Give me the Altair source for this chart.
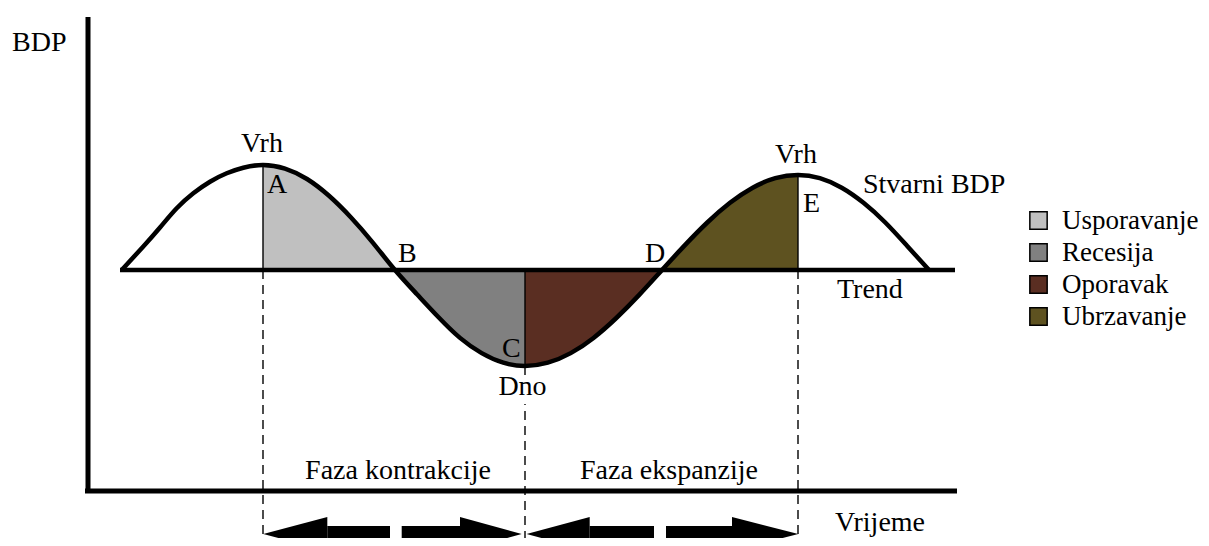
import altair as alt
import pandas as pd

# ---- data (time units ~ horizontal distance from the GDP axis, GDP level above the time axis)
curve_t = [33.7, 55.3, 72, 88.7, 105.3, 122, 138.7, 155.3, 175,
           197, 219, 241, 263, 285, 307,
           328.7, 350.3, 372, 393.7, 415.3, 437,
           459.8, 482.7, 505.5, 528.3, 551.2, 574,
           596.7, 619.3, 642, 664.7, 687.3, 710,
           731.8, 753.7, 775.5, 797.3, 819.2, 841]
curve_g = [221, 244.5, 263.5, 282.7, 297.7, 309.3, 317.7, 323.3, 326,
           322.4, 312, 295.2, 273.5, 248.2, 221,
           197, 174, 153.1, 137.9, 128.3, 125,
           128.3, 137.9, 153.1, 173, 196.1, 221,
           245.6, 268.5, 288.2, 303.3, 312.8, 316,
           312.8, 303.3, 288.2, 268.5, 245, 221]
trend_level = 221
trend_start, trend_end = 32, 867

phase_names = ["Usporavanje", "Recesija", "Oporavak", "Ubrzavanje"]
phase_start = [175, 307, 437, 574]
phase_end = [307, 437, 574, 710]
phase_colors = ["#c0c0c0", "#808080", "#5a2e22", "#5e5220"]

# turning points A (peak), C (trough), E (peak)
turn_t = [175, 437, 710]
turn_g = [326, 125, 316]

# arrows below the time axis
arrow_id = ["a1", "a2", "a3", "a4"]
arrow_tip = [175.3, 433.7, 438.6, 710.3]
arrow_base = [239.3, 372, 501.7, 644]
arrow_body_start = [239.3, 313.7, 501.7, 578]
arrow_body_end = [302, 372, 566, 644]
arrow_center = -43
arrow_head_half = 17
arrow_body_half = 8

left_labels = ["BDP", "A", "B", "C", "D", "E", "Stvarni BDP", "Trend"]
left_t = [-76, 179, 310, 414, 557, 715, 775, 749]
left_g = [440, 298, 229, 134, 229, 279, 298, 193]

center_labels = ["Vrh", "Vrh", "Dno", "Faza kontrakcije", "Faza ekspanzije", "Vrijeme"]
center_t = [174, 708, 434.5, 310, 581, 792]
center_g = [339, 328, 96, 12, 12, -40]

FONT = "Liberation Serif, Times New Roman, serif"
FS = 28
LEG_FS = 27

xs = alt.Scale(domain=[-80, 1113], nice=False, zero=False)
ys = alt.Scale(domain=[-47, 483], nice=False, zero=False)

def X(f):
    return alt.X(f, type="quantitative", scale=xs, axis=None)

def Y(f):
    return alt.Y(f, type="quantitative", scale=ys, axis=None)

curve = pd.DataFrame({"t": curve_t, "g": curve_g})

rows = []
for name, lo, hi in zip(phase_names, phase_start, phase_end):
    for t, g in zip(curve_t, curve_g):
        if lo <= t <= hi:
            rows.append({"t": t, "g": g, "trend": trend_level, "faza": name})
phases = pd.DataFrame(rows)

areas = alt.Chart(phases).mark_area(interpolate="monotone", opacity=1).encode(
    x=X("t"), y=Y("g"), y2="trend:Q",
    color=alt.Color("faza:N", sort=phase_names,
                    scale=alt.Scale(domain=phase_names, range=phase_colors),
                    legend=alt.Legend(title=None, orient="none", legendX=1017, legendY=199,
                                      symbolType="square", symbolSize=300,
                                      symbolStrokeColor="black", symbolStrokeWidth=1.5,
                                      symbolOpacity=1, labelFont=FONT, labelFontSize=LEG_FS,
                                      labelColor="black", labelOffset=10, rowPadding=4,
                                      padding=0)),
    detail="faza:N",
)

solid_v = pd.DataFrame({"t": turn_t, "g0": [trend_level] * 3, "g1": turn_g})
solid_rules = alt.Chart(solid_v).mark_rule(color="black", strokeWidth=1.4).encode(
    x=X("t"), y=Y("g0"), y2="g1:Q")

dash_v = pd.DataFrame({"t": turn_t, "g0": [trend_level, turn_g[1], trend_level],
                       "g1": [-60, -60, -60]})
dash_rules = alt.Chart(dash_v).mark_rule(color="black", strokeWidth=1.4,
                                         strokeDash=[9, 6]).encode(
    x=X("t"), y=Y("g0"), y2="g1:Q")

trend = alt.Chart(pd.DataFrame({"t0": [trend_start], "t1": [trend_end], "g": [trend_level]})).mark_rule(
    color="black", strokeWidth=4.5).encode(x=X("t0"), x2="t1:Q", y=Y("g"))

line = alt.Chart(curve).mark_line(interpolate="natural", color="black", strokeWidth=4.5).encode(
    x=X("t"), y=Y("g"))

axes_df = pd.DataFrame({"t0": [0, -3], "t1": [0, 869], "g0": [474, 0], "g1": [-2, 0]})
axes = alt.Chart(axes_df).mark_rule(color="black", strokeWidth=5).encode(
    x=X("t0"), x2="t1:Q", y=Y("g0"), y2="g1:Q")

head_rows = []
for a, tip, base in zip(arrow_id, arrow_tip, arrow_base):
    head_rows.append({"arrow": a, "t": tip, "hi": arrow_center, "lo": arrow_center})
    head_rows.append({"arrow": a, "t": base, "hi": arrow_center + arrow_head_half,
                      "lo": arrow_center - arrow_head_half})
heads = alt.Chart(pd.DataFrame(head_rows)).mark_area(color="black", interpolate="linear", opacity=1).encode(
    x=X("t"), y=Y("hi"), y2="lo:Q", detail="arrow:N")

body_df = pd.DataFrame({"t0": arrow_body_start, "t1": arrow_body_end,
                        "g0": [arrow_center + arrow_body_half] * 4,
                        "g1": [arrow_center - arrow_body_half] * 4})
bodies = alt.Chart(body_df).mark_rect(color="black").encode(
    x=X("t0"), x2="t1:Q", y=Y("g0"), y2="g1:Q")

mask = alt.Chart(pd.DataFrame({"t0": [410], "t1": [460], "g0": [113], "g1": [87]})).mark_rect(
    color="white").encode(x=X("t0"), x2="t1:Q", y=Y("g0"), y2="g1:Q")

ltext = alt.Chart(pd.DataFrame({"label": left_labels, "t": left_t, "g": left_g})).mark_text(
    font=FONT, fontSize=FS, align="left", baseline="alphabetic", color="black").encode(
    x=X("t"), y=Y("g"), text="label:N")

ctext = alt.Chart(pd.DataFrame({"label": center_labels, "t": center_t, "g": center_g})).mark_text(
    font=FONT, fontSize=FS, align="center", baseline="alphabetic", color="black").encode(
    x=X("t"), y=Y("g"), text="label:N")

chart = alt.layer(areas, solid_rules, dash_rules, trend, line, axes, heads, bodies,
                  mask, ltext, ctext).properties(
    width=1193, height=530, autosize=alt.AutoSizeParams(type="none"), padding=0
).configure_view(stroke=None)

chart.save("out.html", embed_options={"renderer": "svg", "actions": False})
